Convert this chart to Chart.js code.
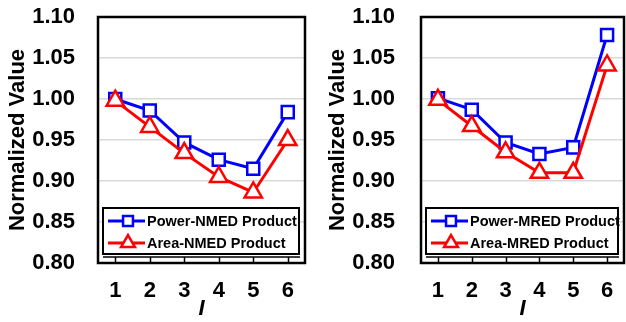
<!DOCTYPE html>
<html>
<head>
<meta charset="utf-8">
<script src="https://cdn.jsdelivr.net/npm/chart.js@4.4.1/dist/chart.umd.min.js"></script>
<style>
  body { margin: 0; background: #fff; width: 626px; height: 322px; overflow: hidden; }
  .wrap { position: absolute; top: 0; width: 313px; height: 322px; }
</style>
</head>
<body>
<div class="wrap" style="left:0"><canvas id="nmedChart" width="313" height="322"></canvas></div>
<div class="wrap" style="left:313px"><canvas id="mredChart" width="313" height="322"></canvas></div>
<script>
const categories = ["1", "2", "3", "4", "5", "6"];
const yMin = 0.80;
const yMax = 1.10;
const yStep = 0.05;

const powerNmed = [1.000, 0.986, 0.947, 0.926, 0.915, 0.984];
const areaNmed = [0.998, 0.966, 0.934, 0.905, 0.886, 0.950];
const powerMred = [1.001, 0.987, 0.947, 0.933, 0.941, 1.078];
const areaMred = [0.999, 0.967, 0.935, 0.910, 0.910, 1.041];

Chart.defaults.font.family = "'Liberation Sans', Arial, sans-serif";
Chart.defaults.color = "#000";

const boldFont = { size: 22, weight: "bold" };
const clear = "rgba(0,0,0,0)";

// outer frame, the inner x axis line with ticks, and the boxed legend
const framePlugin = {
  id: "frame",
  afterDraw(chart) {
    const ctx = chart.ctx;
    const ca = chart.chartArea;
    const xScale = chart.scales.x;
    ctx.save();

    // inner axis line
    const ay = ca.bottom - 6;
    ctx.strokeStyle = "#000";
    ctx.lineWidth = 1.5;
    ctx.beginPath();
    ctx.moveTo(ca.left + 5, ay);
    ctx.lineTo(ca.right - 5, ay);
    categories.forEach((c, i) => {
      const px = Math.round(xScale.getPixelForValue(i)) + 0.5;
      ctx.moveTo(px, ay);
      ctx.lineTo(px, ca.bottom);
    });
    ctx.stroke();

    // frame
    ctx.lineWidth = 2.5;
    ctx.strokeRect(ca.left, ca.top, ca.right - ca.left, ca.bottom - ca.top);

    // legend
    const x0 = ca.left + 5, x1 = ca.right - 6;
    const y0 = ca.bottom - 55, y1 = ca.bottom - 9;
    ctx.fillStyle = "#fff";
    ctx.fillRect(x0, y0, x1 - x0, y1 - y0);
    ctx.lineWidth = 2;
    ctx.strokeRect(x0, y0, x1 - x0, y1 - y0);

    chart.data.datasets.forEach((ds, i) => {
      const y = y0 + 13 + i * 22;
      ctx.strokeStyle = ds.borderColor;
      ctx.lineWidth = 3;
      ctx.beginPath();
      ctx.moveTo(x0 + 5, y);
      ctx.lineTo(x0 + 42, y);
      ctx.stroke();
      ctx.fillStyle = "#fff";
      ctx.lineWidth = 2.5;
      Chart.helpers.drawPoint(ctx, {
        pointStyle: ds.pointStyle,
        radius: ds.legendRadius,
        rotation: 0,
        borderWidth: 2.5
      }, x0 + 25, y);
      ctx.fillStyle = "#000";
      ctx.font = "bold 14.5px 'Liberation Sans', Arial, sans-serif";
      ctx.textBaseline = "middle";
      ctx.textAlign = "left";
      ctx.fillText(ds.label, x0 + 44, y + 1);
    });
    ctx.restore();
  }
};

function makeChart(id, powerLabel, areaLabel, powerData, areaData, lay) {
  return new Chart(document.getElementById(id), {
    type: "line",
    data: {
      labels: categories,
      datasets: [
        {
          label: powerLabel,
          data: powerData,
          borderColor: "#0000ff",
          borderWidth: 3,
          pointStyle: "rect",
          pointRadius: 8.5,
          pointBorderWidth: 2.5,
          pointBackgroundColor: "#fff",
          pointBorderColor: "#0000ff",
          legendRadius: 7,
          order: 2
        },
        {
          label: areaLabel,
          data: areaData,
          borderColor: "#ff0000",
          borderWidth: 3,
          pointStyle: "triangle",
          pointRadius: 10,
          pointBorderWidth: 2.5,
          pointBackgroundColor: "#fff",
          pointBorderColor: "#ff0000",
          legendRadius: 8,
          order: 1
        }
      ]
    },
    options: {
      responsive: false,
      animation: false,
      events: [],
      layout: { autoPadding: false, padding: { left: 0, right: lay.right, top: 17, bottom: 0 } },
      plugins: { legend: { display: false }, tooltip: { enabled: false } },
      scales: {
        x: {
          offset: true,
          grid: { display: false, drawTicks: true, tickLength: 15, tickColor: clear },
          border: { display: false },
          ticks: { font: boldFont, padding: 0, maxRotation: 0 },
          title: {
            display: true,
            text: "I",
            font: { size: 22, weight: "bold", style: "italic" },
            padding: { top: 0, bottom: 0 }
          },
          afterFit: (s) => {
            s.height = 59;
            s.paddingLeft = 0;
            s.paddingRight = 0;
          }
        },
        y: {
          min: yMin,
          max: yMax,
          grid: { color: "#d9d9d9", lineWidth: 1.5, drawTicks: true, tickLength: lay.tickPad, tickColor: clear },
          border: { display: false },
          ticks: {
            stepSize: yStep,
            font: boldFont,
            padding: 0,
            callback: (v) => v.toFixed(2)
          },
          title: {
            display: true,
            text: "Normalized Value",
            font: boldFont,
            padding: { top: lay.titlePad, bottom: 0 }
          },
          afterFit: (s) => { s.width = lay.yWidth; }
        }
      }
    },
    plugins: [framePlugin]
  });
}

makeChart("nmedChart", "Power-NMED Product", "Area-NMED Product", powerNmed, areaNmed,
  { right: 8, yWidth: 98, tickPad: 23, titlePad: 5 });
makeChart("mredChart", "Power-MRED Product", "Area-MRED Product", powerMred, areaMred,
  { right: 2, yWidth: 108, tickPad: 26, titlePad: 12 });
</script>
</body>
</html>
